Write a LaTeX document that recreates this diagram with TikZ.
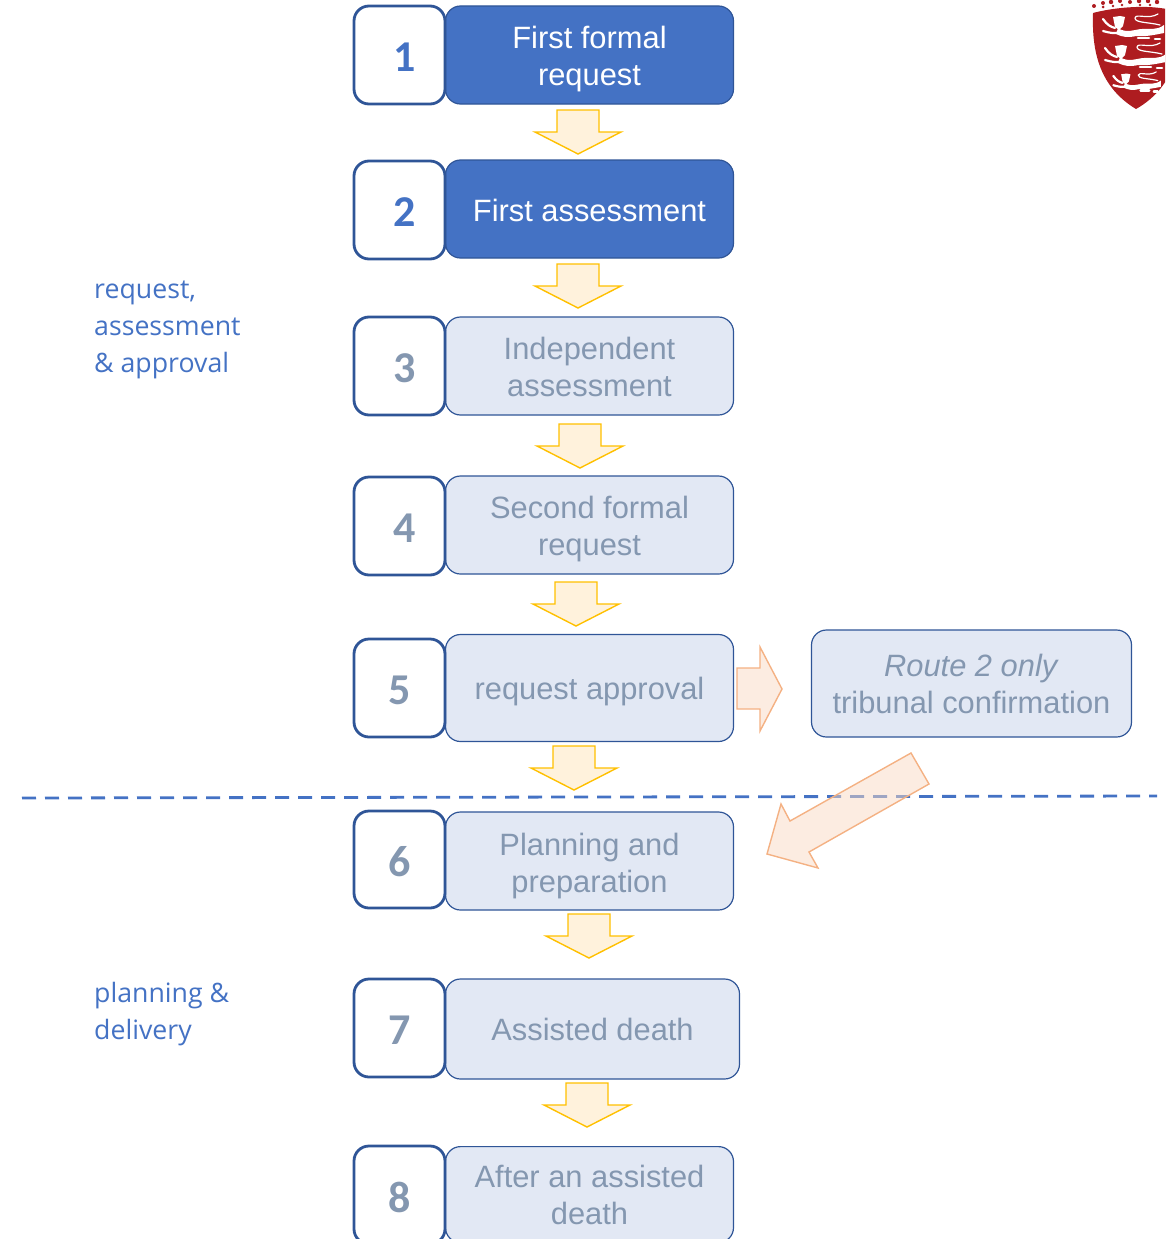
\documentclass[tikz,border=0pt]{standalone}
\usepackage{fontspec}
\setmainfont{Liberation Sans}
\newfontfamily\numfont{Carlito}
\newfontfamily\sidefont{Open Sans}
\definecolor{bluefill}{HTML}{4472C4}
\definecolor{paleblue}{HTML}{E2E8F4}
\definecolor{edgeblue}{HTML}{2F5597}
\definecolor{greytext}{HTML}{8497B0}
\definecolor{goldedge}{HTML}{FFC000}
\definecolor{goldfill}{HTML}{FFF2DC}
\definecolor{peachedge}{HTML}{F4B183}
\definecolor{peachfill}{HTML}{F9D9C3}
\definecolor{crest}{HTML}{AE1C20}
\tikzset{
  x=1pt,y=-1pt,
  mainbox/.style={rounded corners=15pt,draw=edgeblue,line width=1.2pt,inner sep=0pt,align=center,
     font=\fontsize{30.85}{37}\selectfont},
  activebox/.style={mainbox,fill=bluefill,text=white},
  palebox/.style={mainbox,fill=paleblue,text=greytext},
  numbox/.style={rounded corners=15pt,draw=edgeblue,line width=2.8pt,fill=white},
  numtext/.style={font=\numfont\bfseries\fontsize{44}{44}\selectfont,inner sep=0pt},
  sidetext/.style={font=\sidefont\fontsize{26.7}{37}\selectfont,text=bluefill,align=left,anchor=north west,inner sep=0pt},
  goldarrow/.style={draw=goldedge,fill=goldfill,line width=1.4pt,line join=miter},
  peacharrow/.style={draw=peachedge,fill=peachfill,fill opacity=.5,line width=1.4pt,line join=miter},
  lionstroke/.style={draw=white,line cap=round,line join=round}
}
% a tall invisible strut on the first line pushes the centred text down by #1
\newcommand{\nudge}[1]{\rule{0pt}{\dimexpr 22.4pt+#1pt+#1pt\relax}}
\newcommand{\downarrowshape}[3]{% centre, top, bottom
  \draw[goldarrow] (#1-21,#2) -- (#1+21,#2) -- (#1+21,#2+22) -- (#1+43,#2+22) -- (#1,#3)
     -- (#1-43,#2+22) -- (#1-21,#2+22) -- cycle;}
\newcommand{\stepnum}[6]{% name, number, x, ytop, ybottom, colour
  \draw[numbox] (354,#4) rectangle (445,#5);
  \node[numtext,text=#6] (#1) at (#3,{(#4+#5)/2+2}) {#2};}
\newcommand{\lionshape}[3]{% x, y, scale
  \begin{scope}[shift={(#1,#2)},scale=#3]
    \fill[white] (-5,-6) -- (2,-7) -- (7,-6) -- (5,3) -- (1,7) -- (-3,4) -- cycle;
    \draw[lionstroke,line width=2.2pt] (-15,-4) .. controls (-11,2) and (-7,4) .. (-3,5);
    \draw[lionstroke,line width=2.2pt] (-15,8) .. controls (-8,10) and (-3,11) .. (2,9);
    \fill[white] (0,5) .. controls (8,11) and (18,6) .. (24,6) .. controls (32,5) and (38,8) .. (46,2)
       -- (46,10) .. controls (36,12) and (26,14) .. (18,13) .. controls (10,15) and (4,14) .. (-2,11) -- cycle;
    \draw[lionstroke,line width=1.2pt] (40,-9) .. controls (30,-3) and (18,-10) .. (17,-5)
       .. controls (17,0) and (30,-1) .. (42,2);
    \draw[lionstroke,line width=2.6pt] (20,15) -- (31,15);
    \draw[lionstroke,line width=2.6pt] (37,16) -- (42,16);
  \end{scope}}
\begin{document}
\begin{tikzpicture}
\useasboundingbox (0,0) rectangle (1165,1239);
\clip (0,0) rectangle (1165,1239);

% dashed divider
\coordinate (divL) at (22,798);
\coordinate (divR) at (1157,796);
\draw[bluefill,line width=2.8pt,dash pattern=on 14pt off 9pt] (divL) -- (divR);

% main boxes
\node[activebox,minimum width=288pt,minimum height=98pt] (b1) at (589.5,55) {\nudge{4}First formal\\request};
\node[activebox,minimum width=288pt,minimum height=98pt] (b2) at (589.5,209) {\nudge{1}First assessment};
\node[palebox,minimum width=288pt,minimum height=98pt] (b3) at (589.5,366) {\nudge{0.7}Independent\\assessment};
\node[palebox,minimum width=288pt,minimum height=98pt] (b4) at (589.5,525) {\nudge{4}Second formal\\request};
\node[palebox,minimum width=288pt,minimum height=107pt] (b5) at (589.5,688) {\nudge{3}request approval};
\node[palebox,minimum width=288pt,minimum height=98pt] (b6) at (589.5,861) {\nudge{5}Planning and\\preparation};
\node[palebox,minimum width=294pt,minimum height=100pt] (b7) at (592.5,1029) {\nudge{0}Assisted death};
\node[palebox,minimum width=288pt,minimum height=96pt,anchor=north] (b8) at (589.5,1146) {After an assisted\\death};
\node[palebox,minimum width=320pt,minimum height=107pt] (b9) at (971.5,683.5) {\nudge{0}\textit{Route 2 only}\\tribunal confirmation};

% number boxes
\stepnum{n1}{1}{405}{6}{104}{bluefill}
\stepnum{n2}{2}{405}{161}{259}{bluefill}
\stepnum{n3}{3}{405}{317}{415}{greytext}
\stepnum{n4}{4}{405}{477}{575}{greytext}
\stepnum{n5}{5}{400}{639}{737}{greytext}
\stepnum{n6}{6}{400}{811}{908}{greytext}
\stepnum{n7}{7}{400}{979}{1077}{greytext}
\stepnum{n8}{8}{400}{1146}{1244}{greytext}

% block arrows
\downarrowshape{578}{110}{154}
\downarrowshape{578}{264}{308}
\downarrowshape{580}{424}{468}
\downarrowshape{576}{582}{626}
\downarrowshape{574}{746}{790}
\downarrowshape{589}{914}{958}
\downarrowshape{587}{1083}{1127}
\draw[peacharrow] (737,668) -- (760,668) -- (760,647) -- (782,689) -- (760,731) -- (760,709) -- (737,709) -- cycle;
\draw[peacharrow] (911,753) -- (929,784) -- (809,852) -- (818,868) -- (767,854) -- (781,804) -- (790,821) -- cycle;

% side labels
\node[sidetext] (s1) at (94,281) {request,\\assessment\\\& approval};
\node[sidetext] (s2) at (94,982) {planning \&\\delivery};

% crest
\fill[crest] (1093,13) .. controls (1115,7) and (1157,3) .. (1180,13)
   .. controls (1180,45) and (1178,85) .. (1136,109)
   .. controls (1096,85) and (1092,45) .. (1093,13) -- cycle;
\foreach \px/\py/\pr in {1094/6/2,1103/3/2,1103/7/1.5,1111/2/2.2,1120/1/2,1130/2/2,1139/1/2.2,1148/1/2.2,1157/2/2.2,1113/6/1.3,1122/5/1.3,1140/5/1.3,1150/5/1.3}
  \fill[crest] (\px,\py) circle[radius=\pr];
\lionshape{1118}{23}{1}
\lionshape{1120}{52}{1}
\lionshape{1125}{79}{.78}
\end{tikzpicture}
\end{document}
